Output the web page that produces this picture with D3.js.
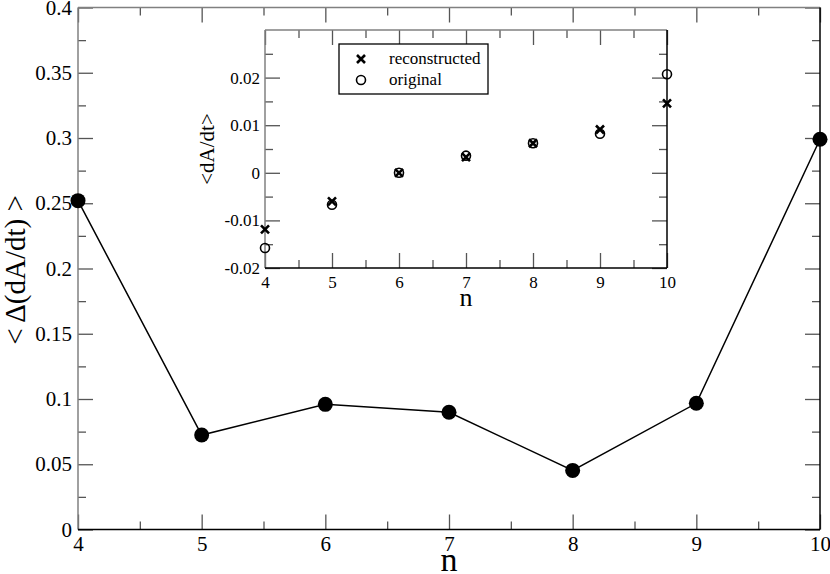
<!DOCTYPE html>
<html>
<head>
<meta charset="utf-8">
<script src="https://cdn.jsdelivr.net/npm/d3@7"></script>
<style>
  body { margin: 0; background: #fff; }
  svg { display: block; }
</style>
</head>
<body>
<div id="chart"></div>
<script>
// main plot: spread of <dA/dt> against n
const nValues = [4, 5, 6, 7, 8, 9, 10];
const spread = [0.252, 0.0724, 0.0959, 0.0898, 0.0453, 0.0967, 0.299];

// inset: reconstructed vs original <dA/dt>
const reconstructed = [-0.0119, -0.0060, 0.0000, 0.0033, 0.0062, 0.0091, 0.0146];
const original = [-0.0158, -0.0067, 0.0000, 0.0036, 0.0062, 0.0082, 0.0207];

const mainYTicks = [0, 0.05, 0.1, 0.15, 0.2, 0.25, 0.3, 0.35, 0.4];
const insetYTicks = [-0.02, -0.01, 0, 0.01, 0.02];
const legendLabels = ["reconstructed", "original"];

const SERIF = "'Liberation Serif', 'Times New Roman', serif";
const W = 830, H = 574;
const svg = d3.select("#chart").append("svg").attr("width", W).attr("height", H);

// helper: draws a framed box with inward ticks on all 4 sides
function drawFrame(g, x, y, xMajor, xMinor, yMajor, yMinor, fmtY, fontSize, padX, padY) {
  const [x0, x1] = x.range(), [y0, y1] = y.range();
  const style = sel => {
    sel.attr("font-size", fontSize);
    sel.select(".domain").remove();
    sel.selectAll(".tick line").attr("stroke", "#555").attr("stroke-width", 1.3);
    sel.selectAll(".tick text").attr("fill", "#000");
  };
  // bottom
  g.append("g").attr("transform", `translate(0,${y0})`)
    .call(d3.axisBottom(x).tickValues(xMinor).tickSize(-8).tickFormat("")).call(style);
  g.append("g").attr("transform", `translate(0,${y0})`)
    .call(d3.axisBottom(x).tickValues(xMajor).tickSize(-15).tickPadding(padX).tickFormat(d3.format("d"))).call(style);
  // top
  g.append("g").attr("transform", `translate(0,${y1})`)
    .call(d3.axisTop(x).tickValues(xMinor).tickSize(-8).tickFormat("")).call(style);
  g.append("g").attr("transform", `translate(0,${y1})`)
    .call(d3.axisTop(x).tickValues(xMajor).tickSize(-15).tickFormat("")).call(style);
  // left
  g.append("g").attr("transform", `translate(${x0},0)`)
    .call(d3.axisLeft(y).tickValues(yMinor).tickSize(-8).tickFormat("")).call(style);
  g.append("g").attr("transform", `translate(${x0},0)`)
    .call(d3.axisLeft(y).tickValues(yMajor).tickSize(-15).tickPadding(padY).tickFormat(fmtY)).call(style);
  // right
  g.append("g").attr("transform", `translate(${x1},0)`)
    .call(d3.axisRight(y).tickValues(yMinor).tickSize(-8).tickFormat("")).call(style);
  g.append("g").attr("transform", `translate(${x1},0)`)
    .call(d3.axisRight(y).tickValues(yMajor).tickSize(-15).tickFormat("")).call(style);
  // frame lines (left/top grey, bottom/right black like the original)
  g.append("line").attr("x1", x0).attr("x2", x0).attr("y1", y0).attr("y2", y1).attr("stroke", "#808080").attr("stroke-width", 1.5);
  g.append("line").attr("x1", x0).attr("x2", x1).attr("y1", y1).attr("y2", y1).attr("stroke", "#808080").attr("stroke-width", 1.5);
  g.append("line").attr("x1", x0).attr("x2", x1).attr("y1", y0).attr("y2", y0).attr("stroke", "#000").attr("stroke-width", 1.5);
  g.append("line").attr("x1", x1).attr("x2", x1).attr("y1", y0).attr("y2", y1).attr("stroke", "#000").attr("stroke-width", 1.5);
}

const halfSteps = d3.range(4.5, 10, 1);
const fmt = d => d === 0 ? "0" : String(+d.toFixed(3));

// ---- main plot ----
const x = d3.scaleLinear().domain([4, 10]).range([78, 820]);
const y = d3.scaleLinear().domain([0, 0.4]).range([529.5, 7.5]);
const mainG = svg.append("g");
drawFrame(mainG, x, y, nValues, halfSteps, mainYTicks, d3.range(0.025, 0.4, 0.05), fmt, 21, 7, 6);

const pts = nValues.map((n, i) => [n, spread[i]]);
mainG.append("path").datum(pts)
  .attr("fill", "none").attr("stroke", "#000").attr("stroke-width", 1.5)
  .attr("d", d3.line().x(d => x(d[0])).y(d => y(d[1])));
mainG.selectAll("circle.pt").data(pts).enter().append("circle").attr("class", "pt")
  .attr("cx", d => x(d[0])).attr("cy", d => y(d[1])).attr("r", 7.5).attr("fill", "#000");

mainG.append("text").attr("x", 449).attr("y", 571).attr("text-anchor", "middle")
  .attr("font-size", 34).text("n");
mainG.append("text").attr("transform", "translate(25,270) rotate(-90)").attr("text-anchor", "middle")
  .attr("font-size", 29).text("< \u0394(dA/dt) >");

// ---- inset ----
const xi = d3.scaleLinear().domain([4, 10]).range([265, 667]);
const yi = d3.scaleLinear().domain([-0.02, 0.03]).range([268, 30]);
const inset = svg.append("g");
inset.append("rect").attr("x", 265).attr("y", 30).attr("width", 402).attr("height", 238).attr("fill", "#fff");
drawFrame(inset, xi, yi, nValues, halfSteps, insetYTicks, d3.range(-0.015, 0.03, 0.01), fmt, 17, 8, 5);

// cross markers for reconstructed
const cross = 4;
inset.selectAll("path.rec").data(nValues).enter().append("path").attr("class", "rec")
  .attr("transform", (n, i) => `translate(${xi(n)},${yi(reconstructed[i])})`)
  .attr("d", `M${-cross},${-cross}L${cross},${cross}M${-cross},${cross}L${cross},${-cross}`)
  .attr("stroke", "#000").attr("stroke-width", 2.6);
// open circles for original
inset.selectAll("circle.orig").data(nValues).enter().append("circle").attr("class", "orig")
  .attr("cx", n => xi(n)).attr("cy", (n, i) => yi(original[i])).attr("r", 4.5)
  .attr("fill", "none").attr("stroke", "#000").attr("stroke-width", 1.6);

inset.append("text").attr("x", 466).attr("y", 306).attr("text-anchor", "middle")
  .attr("font-size", 26).text("n");
inset.append("text").attr("transform", "translate(214,149) rotate(-90)").attr("text-anchor", "middle")
  .attr("font-size", 21).text("<dA/dt>");

// legend
const leg = inset.append("g");
leg.append("rect").attr("x", 339).attr("y", 44).attr("width", 149).attr("height", 50)
  .attr("fill", "#fff").attr("stroke", "#000").attr("stroke-width", 1.3);
legendLabels.forEach((lab, i) => {
  const cy = 59 + i * 21;
  if (i === 0) {
    leg.append("path").attr("transform", `translate(361,${cy})`)
      .attr("d", `M${-cross},${-cross}L${cross},${cross}M${-cross},${cross}L${cross},${-cross}`)
      .attr("stroke", "#000").attr("stroke-width", 2.6);
  } else {
    leg.append("circle").attr("cx", 361).attr("cy", cy).attr("r", 4.5)
      .attr("fill", "none").attr("stroke", "#000").attr("stroke-width", 1.6);
  }
  leg.append("text").attr("x", 389).attr("y", cy + 5).attr("font-size", 17).text(lab);
});

// force the Times-like face on every label (axis groups default to sans-serif)
svg.selectAll("text").style("font-family", SERIF);
</script>
</body>
</html>
